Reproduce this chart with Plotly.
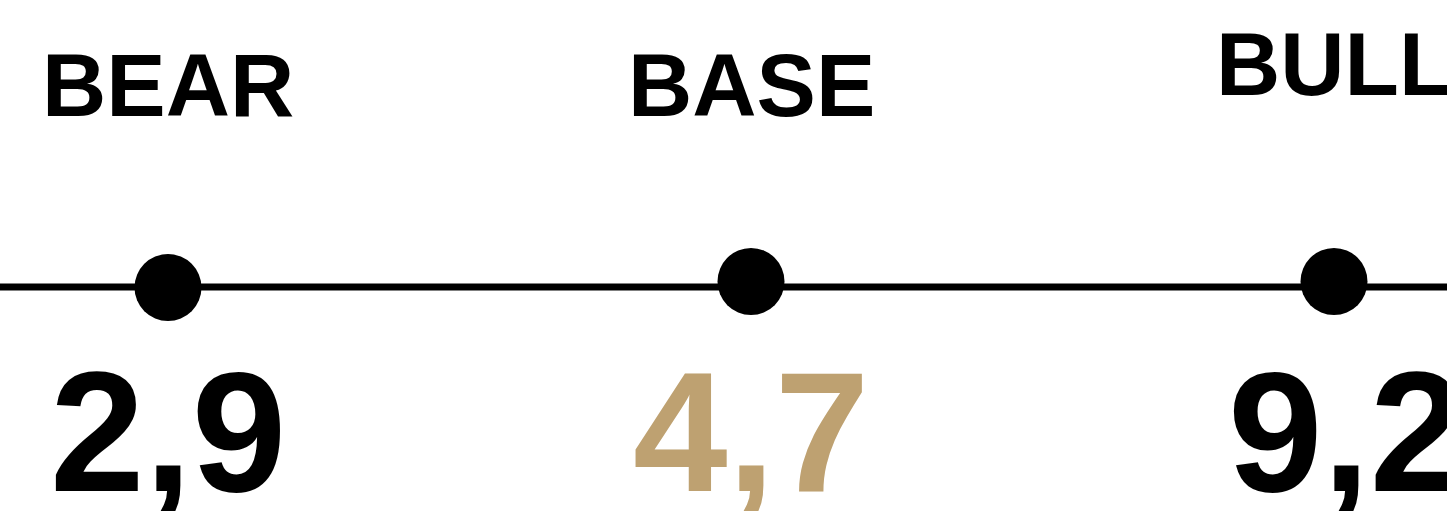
import plotly.graph_objects as go

# Data
scenarios = ["BEAR", "BASE", "BULL"]
values = [2.9, 4.7, 9.2]
value_colors = ["#000000", "#BEA171", "#000000"]

# layout constants (pixel-equivalent units; y=0 is the line)
W, H = 1447, 511
LINE_PX = 287
x_pos = list(range(len(scenarios)))
dot_offsets = [-0.5, 5.5, 5.5]
label_y = [202.5, 202.5, 223.5]
value_y = -144.5
value_xshift = [0, 0, 12]

fig = go.Figure()

fig.add_shape(type="line", xref="paper", yref="y", x0=0, x1=1, y0=0, y1=0,
              line=dict(color="#000000", width=7), layer="below")

fig.add_trace(go.Scatter(
    x=x_pos, y=dot_offsets, mode="markers",
    marker=dict(size=67, color="#000000", line=dict(width=0)),
    hoverinfo="skip", showlegend=False))

for i, (name, v, c) in enumerate(zip(scenarios, values, value_colors)):
    fig.add_annotation(x=x_pos[i], y=label_y[i], text=name, showarrow=False,
                       xanchor="center", yanchor="middle",
                       font=dict(family="Liberation Sans, Arial, sans-serif", size=89,
                                 color="#000000", weight=700))
    fig.add_annotation(x=x_pos[i], y=value_y, text=f"{v:.1f}".replace(".", ","),
                       showarrow=False, xanchor="center", yanchor="middle",
                       xshift=value_xshift[i],
                       font=dict(family="Liberation Sans, Arial, sans-serif", size=170,
                                 color=c, weight=700))

spacing = 583
x0 = -168 / spacing
x1 = (W - 168) / spacing
fig.update_layout(
    width=W, height=H, margin=dict(l=0, r=0, t=0, b=0),
    paper_bgcolor="#ffffff", plot_bgcolor="#ffffff",
    xaxis=dict(range=[x0, x1], visible=False, fixedrange=True),
    yaxis=dict(range=[LINE_PX - H, LINE_PX], visible=False, fixedrange=True),
    showlegend=False,
)

fig.write_html("out.html", config={"displayModeBar": False},
               post_script="document.body.style.margin='0';document.body.style.overflow='hidden';")
